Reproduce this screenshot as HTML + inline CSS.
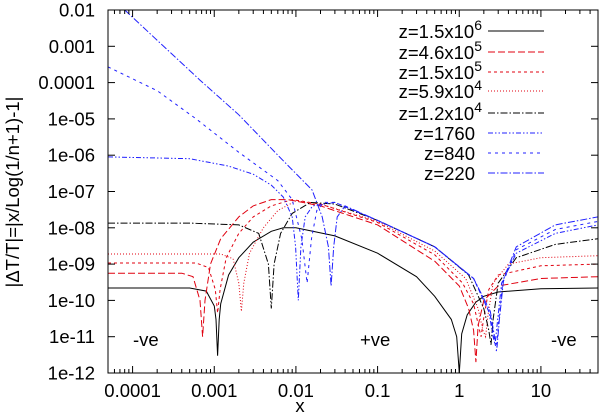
<!DOCTYPE html>
<html><head><meta charset="utf-8"><style>
body{margin:0;background:#fff}
svg{display:block;font-family:"Liberation Sans",sans-serif}
</style></head><body>
<svg id="chart" width="600" height="414" viewBox="0 0 600 414">
<g id="grid"></g><g id="series"></g><g id="axes"></g>
</svg>
<script>
const xTicks=[0.0001,0.001,0.01,0.1,1,10];
const xTickLabels=["0.0001","0.001","0.01","0.1","1","10"];
const yTicks=[1e-12,1e-11,1e-10,1e-9,1e-8,1e-7,1e-6,1e-5,1e-4,1e-3,1e-2];
const yTickLabels=["1e-12","1e-11","1e-10","1e-09","1e-08","1e-07","1e-06","1e-05","0.0001","0.001","0.01"];
const seriesNames=["z=1.5x10^6","z=4.6x10^5","z=1.5x10^5","z=5.9x10^4","z=1.2x10^4","z=1760","z=840","z=220"];
const s1x=[5e-5,5e-4,8e-4,0.001,0.00105,0.0011,0.00115,0.0012,0.0015,0.002,0.003,0.005,0.007,0.01,0.03,0.1,0.3,0.5,0.8,0.93,1.0,1.07,1.25,1.6,2,3,10,50];
const s1y=[2.2e-10,2.2e-10,1.8e-10,7e-11,3e-11,3e-12,3e-11,8e-11,5e-10,1.5e-9,4e-9,8e-9,1e-8,1e-8,6e-9,2e-9,4.5e-10,1.3e-10,3e-11,1e-11,1e-12,1.2e-11,4e-11,9e-11,1.3e-10,1.7e-10,2.1e-10,2.2e-10];
const s2x=[5e-5,4e-4,5.5e-4,6.7e-4,7.2e-4,7.7e-4,9e-4,0.0012,0.002,0.003,0.005,0.008,0.02,0.1,0.5,1.0,1.3,1.5,1.6,1.7,2,3,10,50];
const s2y=[5.6e-10,5.6e-10,4.5e-10,1e-10,1e-11,1e-10,1e-9,5e-9,2e-8,4e-8,6e-8,6e-8,4e-8,1.2e-8,1.2e-9,2.5e-10,6e-11,1.5e-11,2e-12,2e-11,1e-10,2.5e-10,4e-10,4.5e-10];
const s3x=[5e-5,6e-4,8.5e-4,0.00103,0.0011,0.00118,0.0014,0.002,0.003,0.005,0.009,0.02,0.1,0.5,1.1,1.5,1.72,1.85,1.98,2.3,3,10,50];
const s3y=[1.07e-9,1.07e-9,8e-10,2e-10,4.5e-11,2e-10,1.5e-9,7e-9,2e-8,4e-8,6e-8,4.5e-8,1.4e-8,1.8e-9,3e-10,8e-11,2e-11,1e-11,3e-11,2e-10,5e-10,9e-10,1e-9];
const s4x=[5e-5,1.2e-3,1.7e-3,2e-3,2.15e-3,2.3e-3,2.7e-3,0.004,0.006,0.01,0.02,0.1,0.5,1.2,1.7,1.95,2.1,2.25,2.6,4,10,50];
const s4y=[1.9e-9,1.9e-9,1.4e-9,3e-10,5e-11,3e-10,2e-9,1e-8,3e-8,5.5e-8,4.5e-8,1.5e-8,2.3e-9,4e-10,6e-11,1.5e-11,1e-11,4e-11,3e-10,1e-9,1.5e-9,1.7e-9];
const s5x=[5e-5,5e-4,2e-3,3.5e-3,4.6e-3,5e-3,5.4e-3,6.5e-3,0.009,0.015,0.03,0.1,0.5,1.3,2.0,2.3,2.45,2.6,3,5,15,50];
const s5y=[1.35e-8,1.35e-8,1.2e-8,7e-9,1e-9,6e-11,1e-9,7e-9,2.5e-8,5e-8,4.5e-8,1.6e-8,3e-9,5e-10,6e-11,1.5e-11,6e-12,3e-11,3e-10,1.5e-9,3.5e-9,5e-9];
const s6x=[5e-5,5e-4,1.5e-3,3e-3,5e-3,7e-3,9e-3,0.0099,0.0107,0.0115,0.013,0.016,0.03,0.1,0.5,1.5,2.3,2.6,2.75,2.9,3.3,5,15,50];
const s6y=[9e-7,8e-7,5e-7,3e-7,1.5e-7,7e-8,2e-8,3e-9,1e-10,3e-9,2e-8,4e-8,5e-8,1.6e-8,3e-9,4e-10,5e-11,1e-11,6e-12,2e-11,3e-10,2e-9,7e-9,1.2e-8];
const s7x=[5e-5,2e-4,6e-4,2e-3,6e-3,0.009,0.0118,0.0137,0.0155,0.018,0.022,0.03,0.1,0.5,1.5,2.4,2.7,2.85,3.0,3.4,5,15,50];
const s7y=[2.7e-4,6e-5,1e-5,1.2e-6,2e-7,6e-8,5e-9,3e-10,5e-9,3e-8,5e-8,5e-8,1.6e-8,3e-9,4e-10,4e-11,8e-12,4e-12,2e-11,3e-10,2.5e-9,9e-9,1.5e-8];
const s8x=[8e-5,6.6e-4,2e-3,6.3e-3,0.0158,0.021,0.025,0.027,0.029,0.032,0.04,0.1,0.5,1.5,2.4,2.7,2.9,3.1,3.5,5,15,50];
const s8y=[1e-2,1.2e-4,1.3e-5,9e-7,1.1e-7,2e-8,3e-9,2.5e-10,3e-9,2e-8,4e-8,1.6e-8,3e-9,4e-10,5e-11,1e-11,5e-12,3e-11,4e-10,3e-9,1.2e-8,2e-8];
const allX=[s1x,s2x,s3x,s4x,s5x,s6x,s7x,s8x];
const allY=[s1y,s2y,s3y,s4y,s5y,s6y,s7y,s8y];
const styles=[["#000","none"],["#e0000f","7,3"],["#e0000f","3,3"],["#e0000f","1,2"],["#000","7,2,1.5,2"],["#2020ff","5,2,1.5,2,1.5,2"],["#2020ff","3,4"],["#2020ff","7,2,1.5,2"]];
const L=108,R=598,T=10,B=373,XMIN=Math.log10(5e-5),XMAX=Math.log10(50),YMIN=-12,YMAX=-2;
function sx(v){return L+(Math.log10(v)-XMIN)/(XMAX-XMIN)*(R-L);}
function sy(v){return B-(Math.log10(v)-YMIN)/(YMAX-YMIN)*(B-T);}
const NS="http://www.w3.org/2000/svg";
function mk(tag,attrs,parent){const e=document.createElementNS(NS,tag);for(const k in attrs)e.setAttribute(k,attrs[k]);parent.appendChild(e);return e;}
const axes=document.getElementById('axes'),ser=document.getElementById('series');
const FS="18.5";
for(let i=0;i<allX.length;i++){
  const pts=allX[i].map((x,j)=>{const yy=Math.max(allY[i][j],1e-12);return sx(x).toFixed(1)+","+Math.min(sy(yy),B).toFixed(1);}).join(" ");
  const p=mk('polyline',{points:pts,fill:"none",stroke:styles[i][0],"stroke-width":"1","stroke-dasharray":styles[i][1],"clip-path":"url(#clip)"},ser);
  
  
}
const defs=mk('defs',{},document.getElementById('chart'));
const cp=mk('clipPath',{id:'clip'},defs);mk('rect',{x:L,y:T,width:R-L,height:B-T},cp);
const fr=mk('rect',{x:L,y:T,width:R-L,height:B-T,fill:"none",stroke:"#000","stroke-width":"1"},axes);


for(let d=-5;d<=1;d++){for(let m=1;m<=9;m++){const v=m*Math.pow(10,d);const lv=Math.log10(v);if(lv<XMIN-1e-9||lv>XMAX+1e-9)continue;const X=sx(v);const len=m===1?7:4;
 mk('line',{x1:X,y1:B,x2:X,y2:B-len,stroke:"#000"},axes);mk('line',{x1:X,y1:T,x2:X,y2:T+len,stroke:"#000"},axes);}}
xTicks.forEach((v,i)=>{const t=mk('text',{x:sx(v),y:397,"text-anchor":"middle","font-size":FS},axes);t.textContent=xTickLabels[i];
 
 });
yTicks.forEach((v,i)=>{const Y=sy(v);mk('line',{x1:L,y1:Y,x2:L+7,y2:Y,stroke:"#000"},axes);mk('line',{x1:R,y1:Y,x2:R-7,y2:Y,stroke:"#000"},axes);
 const t=mk('text',{x:95,y:Y+6.5,"text-anchor":"end","font-size":FS},axes);t.textContent=yTickLabels[i];
 
 });
const legY=[31,52,72,91,113,133,153,173];
seriesNames.forEach((n,i)=>{const parts=n.split('^');const t=mk('text',{x:475,y:legY[i]+7,"text-anchor":"end","font-size":FS},axes);
 if(parts.length>1){t.appendChild(document.createTextNode(parts[0]));const ts=mk('tspan',{dy:"-8","font-size":"14"},t);ts.textContent=parts[1];t.setAttribute('x',482);}else t.textContent=n;
 
 
 const l=mk('line',{x1:488,y1:legY[i],x2:544,y2:legY[i],stroke:styles[i][0],"stroke-width":"1","stroke-dasharray":styles[i][1]},axes);
 
 });
function txt(s,x,y,name,extra){const t=mk('text',Object.assign({x:x,y:y,"font-size":FS},extra||{}),axes);t.textContent=s;return t;}
txt("-ve",133,346,"region-label-left");
txt("+ve",360,346,"region-label-middle");
txt("-ve",551,346,"region-label-right");
txt("x",300,412,"x-axis-title",{"text-anchor":"middle"});
txt("|\u0394T/T|=|x/Log(1/n+1)-1|",0,0,"y-axis-title",{"text-anchor":"middle",transform:"translate(19,192) rotate(-90)"});
</script>
</body></html>
